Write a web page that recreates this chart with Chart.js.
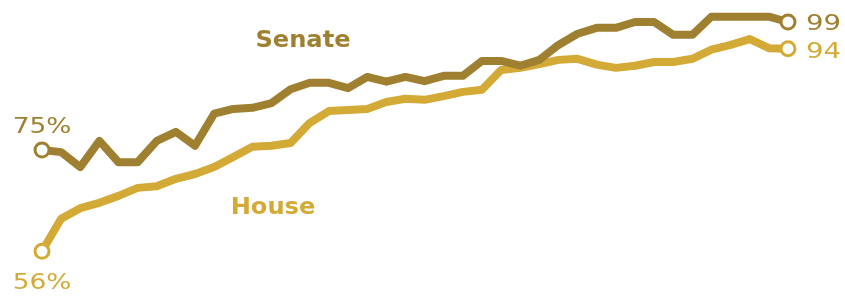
<!DOCTYPE html>
<html><head><meta charset="utf-8">
<script src="https://cdn.jsdelivr.net/npm/chart.js@4/dist/chart.umd.min.js"></script>
<style>html,body{margin:0;padding:0;background:#fff;overflow:hidden}#wrap{width:845px;height:298px}</style>
</head><body><div id="wrap"><canvas id="c" width="845" height="298"></canvas></div>
<script>
const years = [1945,1947,1949,1951,1953,1955,1957,1959,1961,1963,1965,1967,1969,1971,1973,1975,1977,1979,1981,1983,1985,1987,1989,1991,1993,1995,1997,1999,2001,2003,2005,2007,2009,2011,2013,2015,2017,2019,2021,2023];
const senate = [75,74.6,71.8,76.7,72.7,72.7,76.7,78.4,75.8,81.8,82.7,82.9,83.8,86.4,87.6,87.6,86.6,88.7,87.8,88.7,87.9,88.9,88.9,91.7,91.7,90.8,91.9,94.7,96.8,97.9,97.9,99,99,96.6,96.6,100,100,100,100,99];
const house = [56,62.1,64.1,65.1,66.4,67.9,68.2,69.6,70.5,71.8,73.7,75.6,75.8,76.3,80.1,82.3,82.5,82.7,84,84.6,84.4,85.1,85.9,86.3,90,90.4,91.1,91.9,92.1,91,90.4,90.8,91.5,91.5,92.1,93.8,94.7,95.8,94.1,94];
const seriesNames = ['Senate','House'];
const startLabels = ['75%','56%'];
const endLabels = ['99','94'];

const SEN = '#9f8030', HOU = '#d4aa36';

function endPoint(ctx){ const n = ctx.dataset.data.length; return ctx.dataIndex===0 || ctx.dataIndex===n-1; }

const labelPlugin = {
  id: 'labels',
  afterDatasetsDraw(chart){
    const c = chart.ctx;
    const x = chart.scales.x, y = chart.scales.y;
    const n = years.length;
    function txt(s, px, py, font, color, sx, align){
      c.save();
      c.font = font; c.fillStyle = color; c.textBaseline = 'alphabetic'; c.textAlign = 'left';
      const w = c.measureText(s).width * sx;
      let left = px;
      if (align === 'center') left = px - w/2;
      c.translate(left, py); c.scale(sx, 1);
      c.fillText(s, 0, 0);
      c.restore();
    }
    const valFont = '22px "DejaVu Sans"';
    const nameFont = 'bold 23px "DejaVu Sans"';
    // start value labels
    txt(startLabels[0], x.getPixelForValue(0), y.getPixelForValue(senate[0]) - 17, valFont, SEN, 1.2, 'center');
    txt(startLabels[1], x.getPixelForValue(0), y.getPixelForValue(house[0]) + 38, valFont, HOU, 1.2, 'center');
    // end value labels
    txt(endLabels[0], x.getPixelForValue(n-1) + 18, y.getPixelForValue(senate[n-1]) + 8, valFont, SEN, 1.25, 'left');
    txt(endLabels[1], x.getPixelForValue(n-1) + 18, y.getPixelForValue(house[n-1]) + 9, valFont, HOU, 1.25, 'left');
    // series names
    txt(seriesNames[0], 303, 47, nameFont, SEN, 1.05, 'center');
    txt(seriesNames[1], 273, 214, nameFont, HOU, 1.05, 'center');
  }
};

new Chart(document.getElementById('c'), {
  type: 'line',
  data: {
    labels: years,
    datasets: [
      {label: seriesNames[0], data: senate, borderColor: SEN, borderWidth: 8, borderJoinStyle: 'round', borderCapStyle: 'round', tension: 0,
       pointRadius: ctx => endPoint(ctx) ? 7 : 0, pointBackgroundColor: '#fff', pointBorderColor: SEN, pointBorderWidth: 3, clip: false},
      {label: seriesNames[1], data: house, borderColor: HOU, borderWidth: 8, borderJoinStyle: 'round', borderCapStyle: 'round', tension: 0,
       pointRadius: ctx => endPoint(ctx) ? 7 : 0, pointBackgroundColor: '#fff', pointBorderColor: HOU, pointBorderWidth: 3, clip: false}
    ]
  },
  options: {
    responsive: false, animation: false, devicePixelRatio: 1,
    layout: {padding: {left: 42, right: 57, top: 16.67, bottom: 14.67}},
    plugins: {legend: {display: false}, tooltip: {enabled: false}},
    scales: {
      x: {type: 'category', display: false, offset: false},
      y: {display: false, min: 50, max: 100}
    }
  },
  plugins: [labelPlugin]
});
</script></body></html>
